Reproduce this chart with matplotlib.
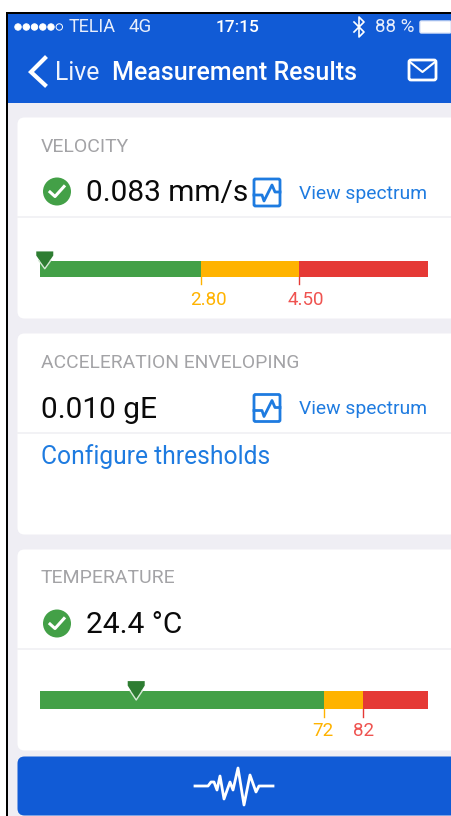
import matplotlib
matplotlib.use("Agg")
import matplotlib.pyplot as plt
from matplotlib.patches import Rectangle, FancyBboxPatch, Circle, Polygon

plt.rcParams['font.family'] = ['Roboto', 'DejaVu Sans']

W, H = 451, 816
BLUE = '#115BD6'
LINK = '#1E7BE0'
GREEN = '#43A047'
DARK = '#2E7D32'
AMBER = '#FFB300'
RED = '#E53935'
RED_TXT = '#EF5350'
GREY = '#A3A3A6'

# gauges
vel_range = [0, 6.75]
vel_limits = [2.80, 4.50]
vel_labels = ['2.80', '4.50']
vel_value = 0.083
temp_range = [0, 98.4]
temp_limits = [72, 82]
temp_labels = ['72', '82']
temp_value = 24.4

fig = plt.figure(figsize=(W / 100, H / 100), dpi=100, facecolor='white')
ax = fig.add_axes([0, 0, 1, 1])
ax.set_xlim(0, W)
ax.set_ylim(H, 0)
ax.axis('off')


def txt(x, y, s, size, color, weight='normal', ha='left'):
    ax.text(x, y, s, fontsize=size, color=color, fontweight=weight, ha=ha, va='center')


def card(y0, y1, color='white'):
    ax.add_patch(FancyBboxPatch((24, y0 + 6), W, y1 - y0 - 12, boxstyle='round,pad=6.5,rounding_size=7',
                                fc=color, ec='none', zorder=1))


def check(x, y):
    ax.add_patch(Circle((x, y), 14, fc=GREEN, ec='none', zorder=3))
    ax.plot([x - 7, x - 2, x + 7], [y + 0.5, y + 5, y - 5], color='white', lw=2.2, zorder=4)


def spectrum(x, y):
    ax.add_patch(FancyBboxPatch((x - 13, y - 13.5), 26, 27, boxstyle='round,pad=0,rounding_size=1.5',
                                fc='white', ec=LINK, lw=2, zorder=3))
    ax.plot([x - 13, x - 5, x - 3, x + 5, x + 8, x + 13],
            [y + 2.5, y + 2.5, y + 8.5, y - 7.5, y - 0.5, y - 0.5], color=LINK, lw=2, zorder=4)


def gauge(y0, y1, rng, limits, labels, value, label_y, label_dx):
    # pixel box 40..428 holds the gauge scale
    g = fig.add_axes([40 / W, 1 - y1 / H, 388 / W, (y1 - y0) / H])
    g.set_xlim(*rng)
    g.set_ylim(0, 1)
    g.axis('off')
    edges = [rng[0]] + limits + [rng[1]]
    for i, c in enumerate([GREEN, AMBER, RED]):
        g.barh(0.5, edges[i + 1] - edges[i], left=edges[i], height=1, color=c, linewidth=0)
    sx = (rng[1] - rng[0]) / 388
    for lim, c in zip(limits, [AMBER, RED]):
        g.plot([lim, lim], [0, -0.45], color=c, lw=1, clip_on=False)
    for lim, c, s, dx in zip(limits, [AMBER, RED_TXT], labels, label_dx):
        g.text(lim + dx * sx, label_y, s, fontsize=13.5, color=c, ha='center', va='center', clip_on=False)
    v = value
    g.add_patch(Polygon([(v - 8.5 * sx, 1.55), (v + 8.5 * sx, 1.55), (v + 8.5 * sx, 1.3),
                         (v, 0.55), (v - 8.5 * sx, 1.3)], closed=True, fc=DARK, ec='none',
                        clip_on=False, zorder=5))
    g.plot([v - 6 * sx, v, v + 6 * sx], [1.0, 0.5, 1.0], color='#D5E8D5', lw=1, clip_on=False, zorder=6)


# page frame
ax.add_patch(Rectangle((6, 12), W, H, fc='#EFEEF4', ec='none', zorder=0))
ax.add_patch(Rectangle((6, 12), W, 2, fc='black', ec='none', zorder=6))
ax.add_patch(Rectangle((6, 12), 2, H, fc='black', ec='none', zorder=6))
ax.add_patch(Rectangle((8, 14), W, 89, fc=BLUE, ec='none', zorder=1))

# status bar
for i, px in enumerate([18, 26.3, 34.5, 42.8, 51, 59.3]):
    ax.add_patch(Circle((px, 27), 3.2, fc='white' if i < 5 else BLUE, ec='white', lw=0.7, zorder=3))
txt(69, 27, 'TELIA', 13, '#E8EEFB')
txt(129, 27, '4G', 13.5, '#E8EEFB')
txt(215.5, 27, '17:15', 12.5, 'white', weight='medium')
ax.plot([354, 364, 359, 359, 364, 354], [22, 32, 37, 17, 22, 32], color='white', lw=1.2, zorder=3)
txt(375, 27, '88 %', 13.5, '#E8EEFB')
ax.add_patch(FancyBboxPatch((420, 21), 31, 12, boxstyle='round,pad=0,rounding_size=1.5', fc='white', ec='#DDE6F8', lw=1, zorder=3))

# nav bar
ax.plot([45, 31, 45], [58, 72, 85], color='white', lw=3, zorder=3, solid_joinstyle='miter')
txt(55, 73, 'Live', 17.8, '#F0F4FD')
txt(112, 73, 'Measurement Results', 18, 'white', weight='medium')
ax.add_patch(FancyBboxPatch((409, 60), 27, 20, boxstyle='round,pad=0,rounding_size=2', fc='none', ec='white', lw=2, zorder=3))
ax.plot([410, 422.5, 435], [62, 72, 62], color='white', lw=1.5, zorder=3)

# cards
card(118, 318)
card(334, 534)
card(550, 750)
card(757, 815, BLUE)
for y in [217, 433, 649]:
    ax.plot([18, W], [y, y], color='#F0F0F3', lw=1.2, zorder=2)

txt(41, 146.5, 'VELOCITY', 14, GREY)
check(57, 191.5)
txt(86, 193, '0.083 mm/s', 21.5, '#0A0A0A')
spectrum(267, 192.5)
txt(299, 194, 'View spectrum', 13.85, LINK)
gauge(260.5, 277, vel_range, vel_limits, vel_labels, vel_value, -1.42, [7, 7])

txt(41, 362.5, 'ACCELERATION ENVELOPING', 13.9, GREY)
txt(41, 410, '0.010 gE', 21.5, '#0A0A0A')
spectrum(267, 408)
txt(299, 409.5, 'View spectrum', 13.85, LINK)
txt(41, 456.5, 'Configure thresholds', 17.7, LINK)

txt(41, 578, 'TEMPERATURE', 14, GREY)
check(57, 623.5)
txt(86, 625, '24.4 °C', 21.5, '#0A0A0A')
gauge(691, 709, temp_range, temp_limits, temp_labels, temp_value, -1.2, [-1, 0])

# waveform icon
ax.plot([195, 208, 211, 214, 217, 220, 224, 230, 233, 238, 244, 250, 256, 259, 273],
        [786, 786, 782, 782, 790, 776, 799, 782, 790, 768, 805, 775, 792, 786, 786],
        color='white', lw=2, zorder=3)

fig.savefig('out.png', dpi=100)
